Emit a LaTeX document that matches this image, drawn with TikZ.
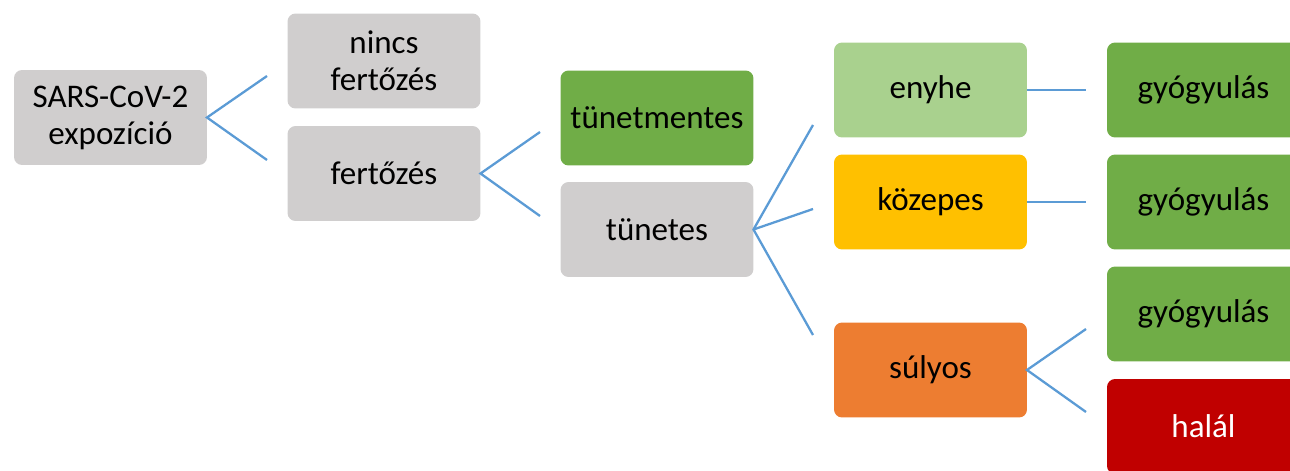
\documentclass[tikz,border=0pt]{standalone}
\usepackage{fontspec}
\setmainfont{Carlito}
\usepackage{tikz}
\usetikzlibrary{positioning}

\definecolor{boxgray}{HTML}{D0CECE}
\definecolor{boxgreen}{HTML}{70AD47}
\definecolor{boxlight}{HTML}{A9D18E}
\definecolor{boxyellow}{HTML}{FFC000}
\definecolor{boxorange}{HTML}{ED7D31}
\definecolor{boxred}{HTML}{C00000}
\definecolor{linkblue}{HTML}{5B9BD5}

\tikzset{
  stage/.style={rectangle, rounded corners=0.16cm, inner sep=0pt, outer sep=0pt,
    minimum width=3.86cm, minimum height=1.9cm, align=center,
    font=\fontsize{18.8}{21}\selectfont},
  link/.style={draw=linkblue, line width=1.3pt}
}

\begin{document}
\begin{tikzpicture}[x=0.02cm, y=-0.02cm]
	\useasboundingbox (0,0) rectangle (1290,470);
	\clip (0,0) rectangle (1290,470);
	\node[stage, fill=boxgray] (expo) at (110.5,117.5) {SARS-CoV-2\\expozíció};
	\node[stage, fill=boxgray] (nincs) at (384,61) {nincs\\fertőzés};
	\node[stage, fill=boxgray] (fert) at (384,173.5) {fertőzés};
	\node[stage, fill=boxgreen] (tmentes) at (657,118) {tünetmentes};
	\node[stage, fill=boxgray] (tunetes) at (657,229.5) {tünetes};
	\node[stage, fill=boxlight] (enyhe) at (930.5,90) {enyhe};
	\node[stage, fill=boxyellow] (kozepes) at (930.5,202) {közepes};
	\node[stage, fill=boxorange] (sulyos) at (930.5,370) {súlyos};
	\node[stage, fill=boxgreen] (gy1) at (1203.5,90) {gyógyulás};
	\node[stage, fill=boxgreen] (gy2) at (1203.5,202) {gyógyulás};
	\node[stage, fill=boxgreen] (gy3) at (1203.5,314) {gyógyulás};
	\node[stage, fill=boxred, text=white] (halal) at (1203.5,426.5) {halál};
	% free ends of the links
	\coordinate (e1) at (267,76);
	\coordinate (e2) at (267,160);
	\coordinate (e3) at (540,132);
	\coordinate (e4) at (540,216);
	\coordinate (e5) at (813,125);
	\coordinate (e6) at (813,209);
	\coordinate (e7) at (813,335);
	\coordinate (e8) at (1086,90);
	\coordinate (e9) at (1086,202);
	\coordinate (e10) at (1086,329);
	\coordinate (e11) at (1086,412);
	\draw[link] (e1) -- (expo.east) -- (e2);
	\draw[link] (e3) -- (fert.east) -- (e4);
	\draw[link] (e5) -- (tunetes.east) -- (e7);
	\draw[link] (tunetes.east) -- (e6);
	\draw[link] (enyhe.east) -- (e8);
	\draw[link] (kozepes.east) -- (e9);
	\draw[link] (e10) -- (sulyos.east) -- (e11);
\end{tikzpicture}
\end{document}
